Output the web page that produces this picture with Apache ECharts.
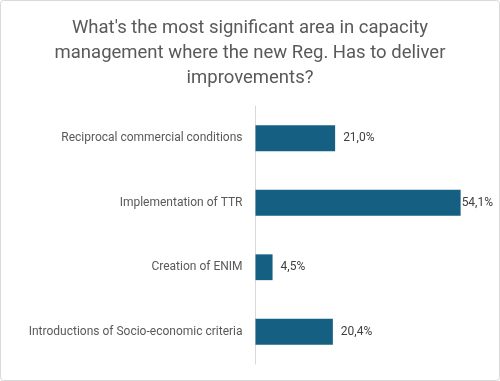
<!DOCTYPE html>
<html><head><meta charset="utf-8">
<script src="https://cdn.jsdelivr.net/npm/echarts@6/dist/echarts.min.js"></script>
<style>html,body{margin:0;padding:0;background:#fff}#c{width:500px;height:381px}</style>
</head><body><div id="c"></div>
<script>
const titleText = "What's the most significant area in capacity\nmanagement where the new Reg. Has to deliver\nimprovements?";
const categories = ["Reciprocal commercial conditions","Implementation of TTR","Creation of ENIM","Introductions of Socio-economic criteria"];
const values = [21.0, 54.1, 4.5, 20.4];
const labelGaps = [8, 1, 8, 8];

const chart = echarts.init(document.getElementById('c'), null, {renderer:'canvas'});
chart.setOption({
  animation:false,
  backgroundColor:'#fff',
  title:{text:titleText,left:'center',top:11,textStyle:{fontFamily:'Roboto',fontSize:18.5,fontWeight:'normal',color:'#595959',lineHeight:25}},
  graphic:[{type:'rect',shape:{x:0.5,y:0.5,width:499,height:380,r:3},style:{fill:'none',stroke:'#d9d9d9',lineWidth:1},silent:true}],
  grid:{left:255.5,right:17,top:106,bottom:17,containLabel:false},
  xAxis:{type:'value',min:0,max:60,show:false},
  yAxis:{type:'category',data:categories,inverse:true,
    axisLine:{show:true,lineStyle:{color:'#d9d9d9',width:1}},
    axisTick:{show:false},
    axisLabel:{margin:13,color:'#595959',fontFamily:'Roboto',fontSize:12}},
  series:[{type:'bar',data:values.map((v,i)=>({value:v,label:{distance:labelGaps[i]}})),barCategoryGap:'60%',
    itemStyle:{color:'#156082'},
    label:{show:true,position:'right',color:'#404040',fontFamily:'Roboto',fontSize:12,
      formatter:p=>p.value.toFixed(1).replace('.',',')+'%'}}]
});
</script></body></html>
